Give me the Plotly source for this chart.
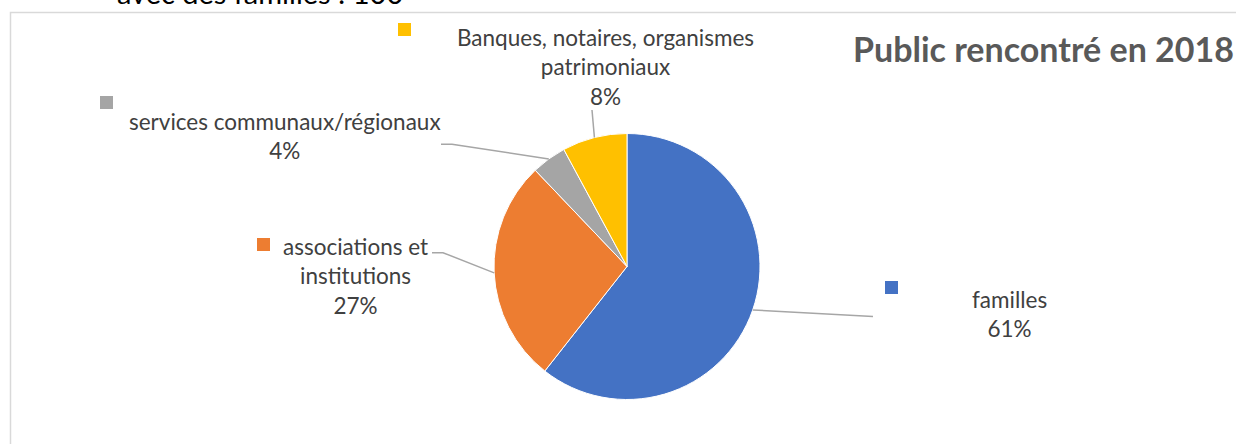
import math
import plotly.graph_objects as go

# data
labels = ["familles", "associations et institutions",
          "services communaux/régionaux",
          "Banques, notaires, organismes patrimoniaux"]
values = [100, 45, 7, 13]
colors = ["#4472C4", "#ED7D31", "#A5A5A5", "#FFC000"]
label_text = ["familles", "associations et<br>institutions",
              "services communaux/régionaux",
              "Banques, notaires, organismes<br>patrimoniaux"]

title = "Public rencontré en 2018"
top_text = "avec des familles : 100"

W, H = 1236, 444
FONT = "Lato"
TXT = "#404040"


def px(x):
    return x / W


def py(y):
    return 1 - y / H


# pie placement (pixels)
cx, cy, r = 627, 266.5, 133

fig = go.Figure(go.Pie(
    labels=labels,
    values=values,
    sort=False,
    direction="clockwise",
    rotation=0,
    marker=dict(colors=colors, line=dict(color="white", width=1)),
    textinfo="none",
    hoverinfo="label+percent",
    domain=dict(x=[px(cx - r), px(cx + r)], y=[py(cy + r), py(cy - r)]),
))

# label boxes: centre x, centre y, legend key corner, leader line end points
label_pos = [
    (1009.6, 314, (885, 281), [(873, 316.5)]),
    (355.5, 275.5, (257, 238), [(443, 252.7), (432, 252.7)]),
    (285, 136, (100, 96), [(452, 144.3), (441, 144.3)]),
    (605, 67, (398, 23), [(592, 110)]),
]

total = sum(values)
shapes = []
annotations = []
cum = 0
for i, v in enumerate(values):
    pct = v / total
    mid = (cum + pct / 2) * 2 * math.pi
    cum += pct
    sx = cx + r * math.sin(mid)
    sy = cy - r * math.cos(mid)
    lx, ly, key, ends = label_pos[i]
    pts = [(sx, sy)] + ends
    path = "M " + " L ".join(f"{px(a)},{py(b)}" for a, b in pts)
    shapes.append(dict(type="path", xref="paper", yref="paper", path=path,
                       line=dict(color="#A6A6A6", width=1.5)))
    shapes.append(dict(type="rect", xref="paper", yref="paper",
                       x0=px(key[0]), x1=px(key[0] + 13),
                       y0=py(key[1] + 13), y1=py(key[1]),
                       fillcolor=colors[i], line=dict(width=0)))
    annotations.append(dict(
        x=px(lx), y=py(ly), xref="paper", yref="paper",
        text=f"{label_text[i]}<br>{round(pct * 100)}%",
        showarrow=False, align="center", xanchor="center", yanchor="middle",
        font=dict(family=FONT, size=22.5, color=TXT)))

# chart border (runs off the right and bottom of the picture)
shapes.append(dict(type="rect", xref="paper", yref="paper",
                   x0=px(10.5), x1=1.2, y0=-0.2, y1=py(12.5),
                   line=dict(color="#D9D9D9", width=1.5)))

annotations.append(dict(
    x=px(1043), y=py(48), xref="paper", yref="paper", text=f"<b>{title}</b>",
    showarrow=False, xanchor="center", yanchor="middle",
    font=dict(family=FONT, size=34, color="#595959")))

# text from above the chart, cut off by the top edge
annotations.append(dict(
    x=px(260), y=py(-7.5), xref="paper", yref="paper", text=top_text,
    showarrow=False, xanchor="center", yanchor="middle",
    font=dict(family=FONT, size=29, color="#000000")))

fig.update_layout(
    width=W, height=H,
    margin=dict(l=0, r=0, t=0, b=0),
    paper_bgcolor="white",
    plot_bgcolor="white",
    showlegend=False,
    shapes=shapes,
    annotations=annotations,
)

# drop the default 8px body margin so the figure fills the window
fig.write_html("out.html", config={"displayModeBar": False},
               post_script="document.body.style.margin = '0';")
